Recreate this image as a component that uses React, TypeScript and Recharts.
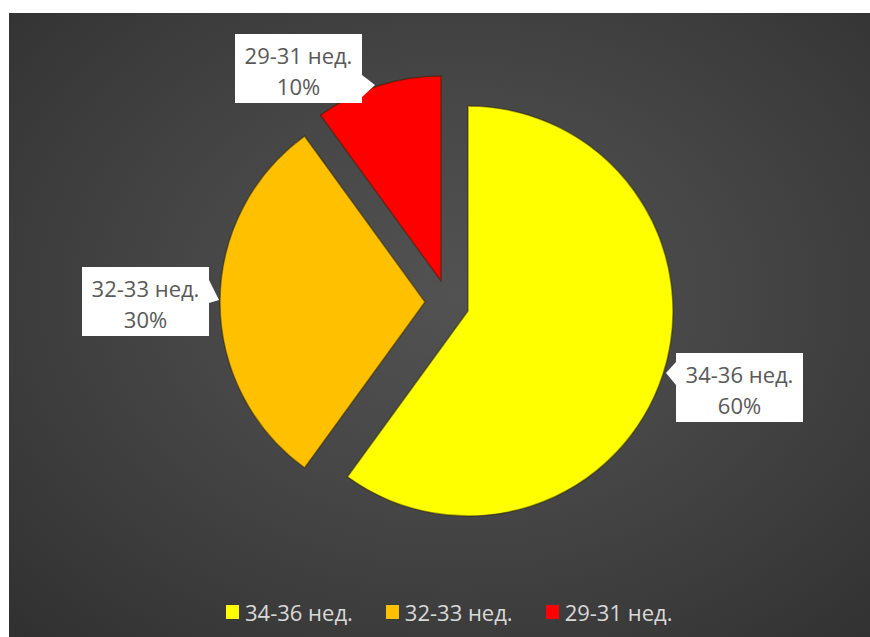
import React from "react";
import { PieChart, Pie, Cell, Legend } from "recharts";

// ---- data ----
const categories: string[] = ["34-36 нед.", "32-33 нед.", "29-31 нед."];
const values: number[] = [60, 30, 10];
const percentLabels: string[] = ["60%", "30%", "10%"];
const colors: string[] = ["#FFFF00", "#FFC000", "#FF0000"];

const data = categories.map((name, i) => ({ name, value: values[i] }));

// ---- layout / style ----
const PAGE_W = 870;
const PAGE_H = 637;
const CHART_LEFT = 9;
const CHART_TOP = 13;
const W = PAGE_W - CHART_LEFT;
const H = PAGE_H - CHART_TOP;
const RADIUS = 205;
const FONT = "'Open Sans', 'Noto Sans', sans-serif";

// exploded slice centres (each slice drawn by its own Pie)
const sliceCentres = [
  { cx: 459, cy: 298 },
  { cx: 416, cy: 289 },
  { cx: 432, cy: 268 },
];

// label boxes relative to the slice centre
const BOX_W = 127;
const BOX_H = 69;
const labelBoxes = [
  { left: 208, top: 42, pointer: [[0, 9], [-10, 20], [0, 32]] },
  { left: -343, top: -35, pointer: [[BOX_W, 13], [BOX_W + 10, 33], [BOX_W, 36]] },
  { left: -206, top: -247, pointer: [[BOX_W, 41], [BOX_W + 13, 51], [BOX_W, 63]] },
];

const makeLabel = (slice: number) => (props: any) => {
  if (props.index !== slice) return null;
  const cx = typeof props.cx === "number" ? props.cx : sliceCentres[slice].cx;
  const cy = typeof props.cy === "number" ? props.cy : sliceCentres[slice].cy;
  const b = labelBoxes[slice];
  const x = cx + b.left;
  const y = cy + b.top;
  const pts = b.pointer.map((p) => `${x + p[0]},${y + p[1]}`).join(" ");
  return (
    <g>
      <rect x={x} y={y} width={BOX_W} height={BOX_H} fill="#FFFFFF" />
      <polygon points={pts} fill="#FFFFFF" />
      <text
        x={x + BOX_W / 2}
        y={y + 21}
        textAnchor="middle"
        dominantBaseline="central"
        fill="#595959"
        fontSize={22}
        fontFamily={FONT}
      >
        {categories[slice]}
      </text>
      <text
        x={x + BOX_W / 2}
        y={y + 52}
        textAnchor="middle"
        dominantBaseline="central"
        fill="#595959"
        fontSize={22}
        fontFamily={FONT}
      >
        {percentLabels[slice]}
      </text>
    </g>
  );
};

const renderLegend = () => (
  <div
    style={{
      display: "flex",
      alignItems: "center",
      paddingLeft: 217,
      fontFamily: FONT,
      fontSize: 22,
      color: "#D9D9D9",
      height: 28,
    }}
  >
    {categories.map((c, i) => (
      <div key={c} style={{ display: "flex", alignItems: "center", marginRight: 33 }}>
        <span
          style={{
            display: "inline-block",
            width: 13,
            height: 14,
            background: colors[i],
            marginRight: 6,
          }}
        />
        <span>{c}</span>
      </div>
    ))}
  </div>
);

export default function App() {
  return (
    <div
      style={{
        position: "absolute",
        left: 0,
        top: 0,
        width: PAGE_W,
        height: PAGE_H,
        background: "#FFFFFF",
        overflow: "hidden",
      }}
    >
      <div
        style={{
          position: "absolute",
          left: CHART_LEFT,
          top: CHART_TOP,
          width: W,
          height: H,
          background:
            "radial-gradient(ellipse at 52% 45%, #525252 0%, #474747 40%, #3a3a3a 75%, #303030 100%)",
        }}
      >
        <PieChart width={W} height={H} margin={{ top: 0, right: 0, bottom: 0, left: 0 }}>
          {sliceCentres.map((c, s) => (
            <Pie
              key={s}
              data={data}
              dataKey="value"
              nameKey="name"
              cx={c.cx}
              cy={c.cy}
              outerRadius={RADIUS}
              startAngle={90}
              endAngle={-270}
              isAnimationActive={false}
              labelLine={false}
              label={makeLabel(s)}
              stroke="none"
            >
              {data.map((d, i) => (
                <Cell
                  key={d.name}
                  fill={i === s ? colors[i] : "transparent"}
                  stroke={i === s ? "rgba(40,30,0,0.45)" : "none"}
                  strokeWidth={i === s ? 1.5 : 0}
                />
              ))}
            </Pie>
          ))}
          <Legend
            content={renderLegend}
            wrapperStyle={{ position: "absolute", left: 0, top: 585, width: W }}
          />
        </PieChart>
      </div>
    </div>
  );
}
